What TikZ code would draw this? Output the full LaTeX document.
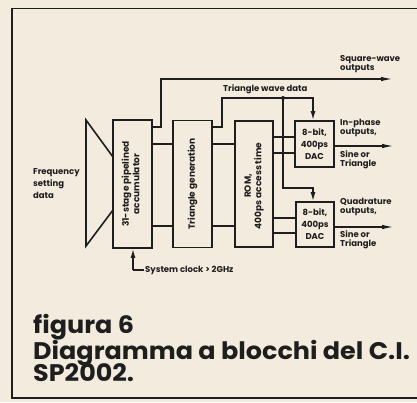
\documentclass[tikz,border=0pt]{standalone}
\usepackage{fontspec}
\setmainfont{Poppins}
\usetikzlibrary{arrows.meta,calc}
\definecolor{paper}{HTML}{F3ECDE}
\definecolor{ink}{HTML}{1E1E1E}
\tikzset{
  blk/.style={draw=ink,line width=1.6pt,minimum width=#1,inner sep=0pt,fill=none},
  wire/.style={draw=ink,line width=1.5pt},
  lbl/.style={font=\fontsize{8.5}{9.5}\selectfont\bfseries,text=ink,align=left,inner sep=0pt,anchor=west},
  rlbl/.style={font=\fontsize{9}{10.5}\selectfont\bfseries,text=ink,align=center,inner sep=0pt,rotate=90},
  daclbl/.style={font=\fontsize{8.5}{12}\selectfont\bfseries,text=ink,align=center,inner sep=0pt},
  captext/.style={font=\fontsize{24}{24}\selectfont\bfseries,text=ink,inner sep=0pt,anchor=base west,xscale=1.06,transform shape},
  outarrow/.style={-{Latex[length=12pt,width=4.5pt]}},
  inarrow/.style={-{Latex[length=9pt,width=5pt]}}
}
\begin{document}
\begin{tikzpicture}[x=1pt,y=-1pt]
\fill[paper] (0,0) rectangle (417,402);
\useasboundingbox (0,0) rectangle (417,402);
% frame
\draw[ink,line width=1.4pt] (417,8.5) -- (12,8.5) -- (12,398) -- (417,398);
% trapezoid
\draw[ink,line width=1.6pt,line join=miter] (113,157) -- (86,120) -- (86,246) -- (113,210);
% blocks
\node[blk=39pt,minimum height=128pt] (acc) at (132.5,184) {};
\node[blk=39pt,minimum height=127pt] (tri) at (192.5,184) {};
\node[blk=38pt,minimum height=126pt] (rom) at (254,184) {};
\node[blk=39pt,minimum height=46pt] (dac1) at (314.5,144) {};
\node[blk=38pt,minimum height=45pt] (dac2) at (315,224.5) {};
\node[rlbl] (accT) at ([xshift=-2pt]acc.center) {31-stage pipelined\\accumulator};
\node[rlbl] (triT) at (tri.center) {Triangle generation};
\node[rlbl] (romT) at ([yshift=-2pt]rom.center) {ROM,\\400ps access time};
\node[daclbl] (dac1T) at (dac1.center) {8-bit,\\400ps\\DAC};
\node[daclbl] (dac2T) at (dac2.center) {8-bit,\\400ps\\DAC};
% level coordinates
\coordinate (yTop) at (0,127);
\coordinate (yU) at (0,144);
\coordinate (yL) at (0,226);
\coordinate (r1) at (0,137);
\coordinate (r2) at (0,153);
\coordinate (r3) at (0,218);
\coordinate (r4) at (0,233);
% bus connections
\draw[wire] (acc.east |- yU) -- (tri.west |- yU);
\draw[wire] (acc.east |- yL) -- (tri.west |- yL);
\draw[wire] (tri.east |- yU) -- (rom.west |- yU);
\draw[wire] (tri.east |- yL) -- (rom.west |- yL);
\draw[wire] (rom.east |- r1) -- (dac1.west |- r1);
\draw[wire] (rom.east |- r2) -- (dac1.west |- r2);
\draw[wire] (rom.east |- r3) -- (dac2.west |- r3);
\draw[wire] (rom.east |- r4) -- (dac2.west |- r4);
% square-wave outputs
\coordinate (sqEnd) at (393,79);
\draw[wire,outarrow] (acc.east |- yTop) -- (161,127) -- (161,79) -- (sqEnd);
% triangle wave data
\coordinate (tw) at (283,98);
\coordinate (d1in) at (313,98);
\coordinate (d2in) at (313,188);
\draw[wire,inarrow] (tri.east |- yTop) -- (222,127) -- (222,98) -- (d1in) -- (d1in |- dac1.north);
\draw[wire,inarrow] (tw) -- (283,188) -- (d2in) -- (d2in |- dac2.north);
\fill[ink] (tw) circle (2pt);
% outputs
\coordinate (o1) at (394,146);
\coordinate (o2) at (394,227);
\draw[wire,outarrow] (dac1.east |- o1) -- (o1);
\draw[wire,outarrow] (dac2.east |- o2) -- (o2);
% clock
\coordinate (clk) at (133,270);
\draw[wire,inarrow] (clk) -- (clk |- acc.south);
\draw[wire] (clk) -- (144,270);
\node[lbl] (clkT) at (145,270) {System clock > 2GHz};
% labels
\node[lbl,font=\fontsize{8.5}{12}\selectfont\bfseries] (freq) at (33,184) {Frequency\\setting\\data};
\node[lbl] (sq) at (340,64) {Square-wave\\outputs};
\node[lbl] (twT) at (223,89) {Triangle wave data};
\node[lbl] (ip) at (340,128) {In-phase\\outputs,};
\node[lbl] (s1) at (340,160) {Sine or\\Triangle};
\node[lbl] (qd) at (340,207) {Quadrature\\outputs,};
\node[lbl] (s2) at (340,240) {Sine or\\Triangle};
% caption
\node[captext] (c1) at (33,333) {figura 6};
\node[captext] (c2) at (33,359) {Diagramma a blocchi del C.I.};
\node[captext] (c3) at (33,381) {SP2002.};
\end{tikzpicture}
\end{document}
